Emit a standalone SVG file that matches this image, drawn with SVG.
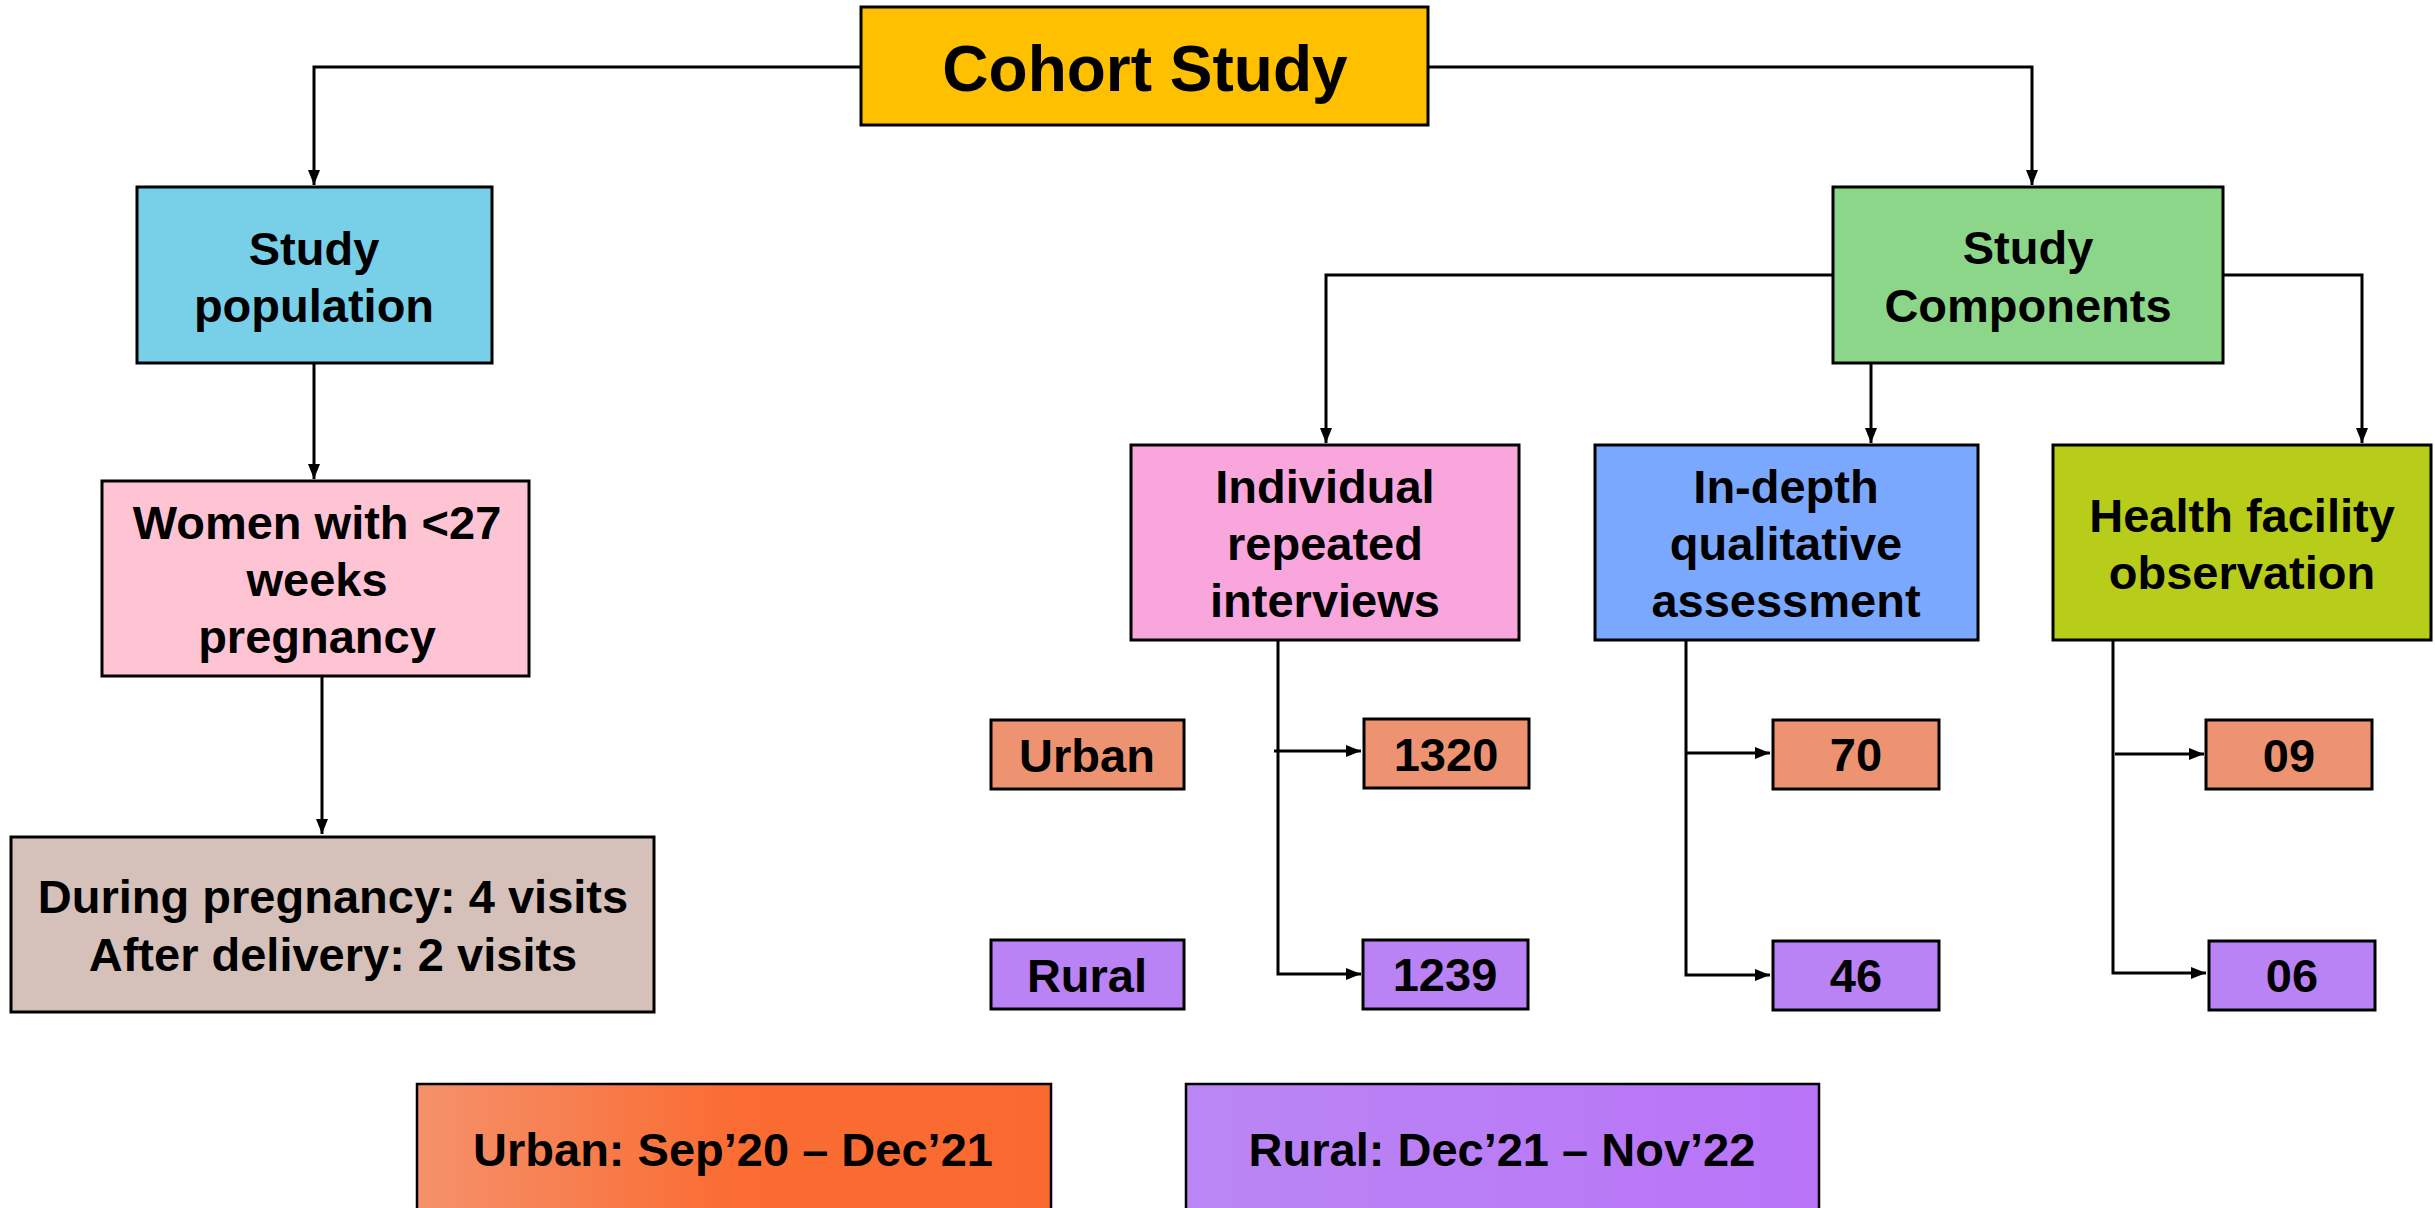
<svg xmlns="http://www.w3.org/2000/svg" width="2435" height="1208" viewBox="0 0 2435 1208">
<style>
.box{stroke:#000;stroke-width:3}
.t{font-family:"Liberation Sans",Arial,sans-serif;font-weight:bold;font-size:47px;fill:#000;text-anchor:middle}
.big{font-size:64px}
.c{fill:none;stroke:#000;stroke-width:3}
.urban{fill:#ED9372}
.rural{fill:#B982F5}
</style>
<defs>
<marker id="ah" markerUnits="userSpaceOnUse" markerWidth="16" markerHeight="12" refX="15" refY="6" orient="auto">
<path d="M0,0 L15,6 L0,12 z" fill="#000"/>
</marker>
<linearGradient id="gU" x1="0" y1="0" x2="1" y2="0">
<stop offset="0" stop-color="#F5916B"/>
<stop offset="0.5" stop-color="#FA6C32"/>
<stop offset="1" stop-color="#FA6930"/>
</linearGradient>
<linearGradient id="gR" x1="0" y1="0" x2="1" y2="0">
<stop offset="0" stop-color="#BA86F4"/>
<stop offset="1" stop-color="#B974F8"/>
</linearGradient>
</defs>
<g id="connectors">
<path class="c" d="M860,67 H314 V185" marker-end="url(#ah)"/>
<path class="c" d="M1429,67 H2032 V185" marker-end="url(#ah)"/>
<path class="c" d="M314,363 V479" marker-end="url(#ah)"/>
<path class="c" d="M322,676 V834" marker-end="url(#ah)"/>
<path class="c" d="M1832,275 H1326 V443" marker-end="url(#ah)"/>
<path class="c" d="M1871,363 V443" marker-end="url(#ah)"/>
<path class="c" d="M2224,275 H2362 V443" marker-end="url(#ah)"/>
<path class="c" d="M1278,640 V974 H1361" marker-end="url(#ah)"/>
<path class="c" d="M1274,751 H1361" marker-end="url(#ah)"/>
<path class="c" d="M1686,640 V975 H1770" marker-end="url(#ah)"/>
<path class="c" d="M1686,753 H1770" marker-end="url(#ah)"/>
<path class="c" d="M2113,640 V973 H2206" marker-end="url(#ah)"/>
<path class="c" d="M2115,754 H2204" marker-end="url(#ah)"/>
</g>
<g id="cohort">
<rect class="box" x="861" y="7" width="567" height="118" fill="#FFC000"/>
<text class="t big" x="1145" y="91">Cohort Study</text>
</g>
<g id="study-population">
<rect class="box" x="137" y="187" width="355" height="176" fill="#78CFE8"/>
<text class="t" x="314" y="265">Study</text>
<text class="t" x="314" y="322">population</text>
</g>
<g id="study-components">
<rect class="box" x="1833" y="187" width="390" height="176" fill="#8CD68A"/>
<text class="t" x="2028" y="264">Study</text>
<text class="t" x="2028" y="322">Components</text>
</g>
<g id="women">
<rect class="box" x="102" y="481" width="427" height="195" fill="#FFC4D4"/>
<text class="t" x="317" y="539">Women with &lt;27</text>
<text class="t" x="317" y="596">weeks</text>
<text class="t" x="317" y="653">pregnancy</text>
</g>
<g id="visits">
<rect class="box" x="11" y="837" width="643" height="175" fill="#D5C1B9"/>
<text class="t" x="333" y="913">During pregnancy: 4 visits</text>
<text class="t" x="333" y="971">After delivery: 2 visits</text>
</g>
<g id="individual">
<rect class="box" x="1131" y="445" width="388" height="195" fill="#F9A6DC"/>
<text class="t" x="1325" y="503">Individual</text>
<text class="t" x="1325" y="560">repeated</text>
<text class="t" x="1325" y="617">interviews</text>
</g>
<g id="indepth">
<rect class="box" x="1595" y="445" width="383" height="195" fill="#7BA8FF"/>
<text class="t" x="1786" y="503">In-depth</text>
<text class="t" x="1786" y="560">qualitative</text>
<text class="t" x="1786" y="617">assessment</text>
</g>
<g id="health">
<rect class="box" x="2053" y="445" width="378" height="195" fill="#B8CC1A"/>
<text class="t" x="2242" y="532">Health facility</text>
<text class="t" x="2242" y="589">observation</text>
</g>
<g id="urban-label">
<rect class="box urban" x="991" y="720" width="193" height="69"/>
<text class="t" x="1087" y="772">Urban</text>
</g>
<g id="rural-label">
<rect class="box rural" x="991" y="940" width="193" height="69"/>
<text class="t" x="1087" y="992">Rural</text>
</g>
<g id="n1320">
<rect class="box urban" x="1364" y="719" width="165" height="69"/>
<text class="t" x="1446" y="771">1320</text>
</g>
<g id="n1239">
<rect class="box rural" x="1363" y="940" width="165" height="69"/>
<text class="t" x="1445" y="991">1239</text>
</g>
<g id="n70">
<rect class="box urban" x="1773" y="720" width="166" height="69"/>
<text class="t" x="1856" y="771">70</text>
</g>
<g id="n46">
<rect class="box rural" x="1773" y="941" width="166" height="69"/>
<text class="t" x="1856" y="992">46</text>
</g>
<g id="n09">
<rect class="box urban" x="2206" y="720" width="166" height="69"/>
<text class="t" x="2289" y="772">09</text>
</g>
<g id="n06">
<rect class="box rural" x="2209" y="941" width="166" height="69"/>
<text class="t" x="2292" y="992">06</text>
</g>
<g id="urban-period">
<rect x="417" y="1084" width="634" height="140" fill="url(#gU)" stroke="#000" stroke-width="2.5"/>
<text class="t" x="733" y="1166">Urban: Sep’20 – Dec’21</text>
</g>
<g id="rural-period">
<rect x="1186" y="1084" width="633" height="140" fill="url(#gR)" stroke="#000" stroke-width="2.5"/>
<text class="t" x="1502" y="1166">Rural: Dec’21 – Nov’22</text>
</g>
</svg>
